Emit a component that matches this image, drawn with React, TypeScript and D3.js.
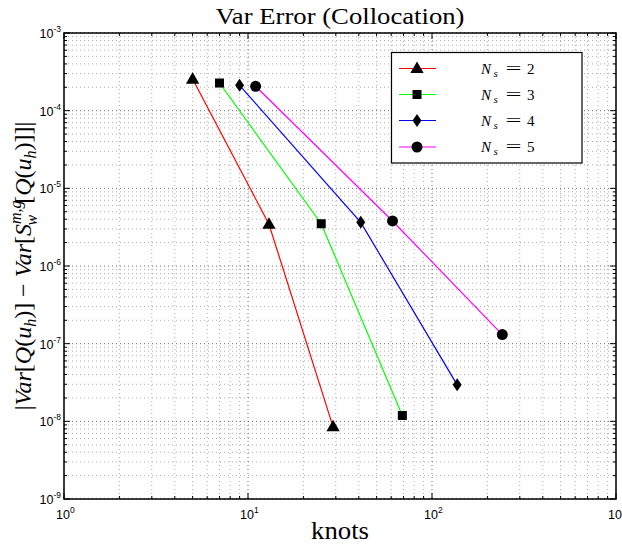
import React from "react";
import * as d3 from "d3";

// knots vs variance error, one series per N_s
const seriesNames = ["2", "3", "4", "5"];
const seriesColors = ["#ff0000", "#00ff00", "#0000ff", "#ff00ff"];
const seriesMarkers = ["triangle", "square", "diamond", "circle"];
const knotsN2 = [5, 13, 29];
const errN2 = [2.55e-4, 3.45e-6, 8.5e-9];
const knotsN3 = [7, 25, 69];
const errN3 = [2.27e-4, 3.5e-6, 1.19e-8];
const knotsN4 = [9, 41, 137];
const errN4 = [2.12e-4, 3.65e-6, 2.95e-8];
const knotsN5 = [11, 61, 241];
const errN5 = [2.06e-4, 3.8e-6, 1.31e-7];

const xDecades = [0, 1, 2, 3];
const yDecades = [-9, -8, -7, -6, -5, -4, -3];

const W = 622;
const H = 546;
const left = 64;
const right = 616;
const top = 33;
const bottom = 499;

const serif = "Liberation Serif, DejaVu Serif, serif";
const sans = "Liberation Sans, Arial, sans-serif";

const Marker: React.FC<{ kind: string; x: number; y: number }> = ({ kind, x, y }) => {
  if (kind === "triangle") {
    const s = 7;
    return <path d={`M${x},${y - s} L${x + s * 0.95},${y + s * 0.65} L${x - s * 0.95},${y + s * 0.65} Z`} fill="#000" />;
  }
  if (kind === "square") {
    return <rect x={x - 4.5} y={y - 4.5} width={9} height={9} fill="#000" />;
  }
  if (kind === "diamond") {
    return <path d={`M${x},${y - 6.5} L${x + 4.5},${y} L${x},${y + 6.5} L${x - 4.5},${y} Z`} fill="#000" />;
  }
  return <circle cx={x} cy={y} r={5.5} fill="#000" />;
};

export default function App() {
  const x = d3.scaleLog().domain([1, 1000]).range([left, right]);
  const y = d3.scaleLog().domain([1e-9, 1e-3]).range([bottom, top]);

  const series = [
    { k: knotsN2, e: errN2 },
    { k: knotsN3, e: errN3 },
    { k: knotsN4, e: errN4 },
    { k: knotsN5, e: errN5 },
  ];

  const line = d3
    .line<[number, number]>()
    .x((d) => x(d[0]))
    .y((d) => y(d[1]));

  const xMajor = xDecades.map((p) => Math.pow(10, p));
  const yMajor = yDecades.map((p) => Math.pow(10, p));
  const xMinor: number[] = [];
  xDecades.slice(0, -1).forEach((p) => {
    for (let m = 2; m <= 9; m++) xMinor.push(m * Math.pow(10, p));
  });
  const yMinor: number[] = [];
  yDecades.slice(0, -1).forEach((p) => {
    for (let m = 2; m <= 9; m++) yMinor.push(m * Math.pow(10, p));
  });

  const legendRows = [68.5, 94.5, 120.5, 147];
  const it = { fontStyle: "italic" as const };

  return (
    <svg width={W} height={H} style={{ position: "absolute", left: 0, top: 0, background: "#fff" }}>
      <rect x={0} y={0} width={W} height={H} fill="#fff" />
      <rect x={left} y={top} width={right - left} height={bottom - top} fill="#fff" />

      {/* grid */}
      <g strokeWidth={0.8} strokeDasharray="1,3">
        {xMinor.map((v) => (
          <line key={"xm" + v} x1={x(v)} x2={x(v)} y1={top} y2={bottom} stroke="#999" />
        ))}
        {yMinor.map((v) => (
          <line key={"ym" + v} x1={left} x2={right} y1={y(v)} y2={y(v)} stroke="#999" />
        ))}
        {xMajor.map((v) => (
          <line key={"xM" + v} x1={x(v)} x2={x(v)} y1={top} y2={bottom} stroke="#444" />
        ))}
        {yMajor.map((v) => (
          <line key={"yM" + v} x1={left} x2={right} y1={y(v)} y2={y(v)} stroke="#444" />
        ))}
      </g>

      {/* ticks on all four sides */}
      <g stroke="#000" strokeWidth={1}>
        {xMajor.map((v) => (
          <g key={"xt" + v}>
            <line x1={x(v)} x2={x(v)} y1={bottom} y2={bottom - 6} />
            <line x1={x(v)} x2={x(v)} y1={top} y2={top + 6} />
          </g>
        ))}
        {xMinor.map((v) => (
          <g key={"xtm" + v}>
            <line x1={x(v)} x2={x(v)} y1={bottom} y2={bottom - 3} />
            <line x1={x(v)} x2={x(v)} y1={top} y2={top + 3} />
          </g>
        ))}
        {yMajor.map((v) => (
          <g key={"yt" + v}>
            <line x1={left} x2={left + 6} y1={y(v)} y2={y(v)} />
            <line x1={right} x2={right - 6} y1={y(v)} y2={y(v)} />
          </g>
        ))}
        {yMinor.map((v) => (
          <g key={"ytm" + v}>
            <line x1={left} x2={left + 3} y1={y(v)} y2={y(v)} />
            <line x1={right} x2={right - 3} y1={y(v)} y2={y(v)} />
          </g>
        ))}
      </g>

      {/* series */}
      {series.map((s, i) => (
        <g key={"s" + i}>
          <path
            d={line(s.k.map((k, j) => [k, s.e[j]] as [number, number])) || ""}
            fill="none"
            stroke={seriesColors[i]}
            strokeWidth={1.2}
          />
          {s.k.map((k, j) => (
            <Marker key={j} kind={seriesMarkers[i]} x={x(k)} y={y(s.e[j])} />
          ))}
        </g>
      ))}

      <rect x={left} y={top} width={right - left} height={bottom - top} fill="none" stroke="#000" strokeWidth={1.5} />

      {/* tick labels */}
      <g style={{ fontFamily: sans }} fill="#000">
        {xDecades.map((p) => (
          <text key={"xl" + p} x={x(Math.pow(10, p)) - 8} y={519} fontSize={12.5}>
            10<tspan dy={-6} fontSize={8.5}>{p}</tspan>
          </text>
        ))}
        {yDecades.map((p) => (
          <text key={"yl" + p} x={left - 3} y={y(Math.pow(10, p)) + 5} fontSize={12.5} textAnchor="end">
            10<tspan dy={-6} fontSize={8.5}>{"-" + Math.abs(p)}</tspan>
          </text>
        ))}
      </g>

      {/* title and axis labels */}
      <text
        x={(left + right) / 2}
        y={24}
        textAnchor="middle"
        style={{ fontFamily: serif }}
        fontSize={23}
        textLength={249}
        lengthAdjust="spacingAndGlyphs"
        fill="#000"
      >
        Var Error (Collocation)
      </text>
      <text
        x={(left + right) / 2}
        y={539}
        textAnchor="middle"
        style={{ fontFamily: serif }}
        fontSize={25}
        textLength={58}
        lengthAdjust="spacingAndGlyphs"
        fill="#000"
      >
        knots
      </text>
      <text
        transform={`translate(31,${(top + bottom) / 2}) rotate(-90)`}
        textAnchor="middle"
        style={{ fontFamily: serif }}
        fontSize={24}
        fill="#000"
      >
        |<tspan style={it}>Var</tspan>[<tspan style={it}>Q</tspan>(<tspan style={it}>u</tspan>
        <tspan style={it} fontSize={16} dy={5}>h</tspan>
        <tspan dy={-5}>)] − </tspan>
        <tspan style={it}>Var</tspan>[<tspan style={it}>S</tspan>
        <tspan style={it} fontSize={16} dy={-10}>m,g</tspan>
        <tspan style={it} fontSize={16} dx={-25} dy={16}>w</tspan>
        <tspan dx={11} dy={-6}>[</tspan>
        <tspan style={it}>Q</tspan>(<tspan style={it}>u</tspan>
        <tspan style={it} fontSize={16} dy={5}>h</tspan>
        <tspan dy={-5}>)]]|</tspan>
      </text>

      {/* legend */}
      <g>
        <rect x={391.5} y={52.5} width={190.5} height={110.5} fill="#fff" stroke="#000" strokeWidth={1.2} />
        {seriesNames.map((n, i) => (
          <g key={"lg" + n}>
            <line x1={399} x2={436} y1={legendRows[i]} y2={legendRows[i]} stroke={seriesColors[i]} strokeWidth={1.2} />
            <Marker kind={seriesMarkers[i]} x={417} y={legendRows[i]} />
            <g style={{ fontFamily: serif }} fill="#000">
              <text x={481} y={legendRows[i] + 5} fontSize={15} style={it}>N</text>
              <text x={493.5} y={legendRows[i] + 8} fontSize={11} style={it}>s</text>
              <text x={505.5} y={legendRows[i] + 5} fontSize={16} textLength={16} lengthAdjust="spacingAndGlyphs">=</text>
              <text x={527} y={legendRows[i] + 5} fontSize={15}>{n}</text>
            </g>
          </g>
        ))}
      </g>
    </svg>
  );
}
